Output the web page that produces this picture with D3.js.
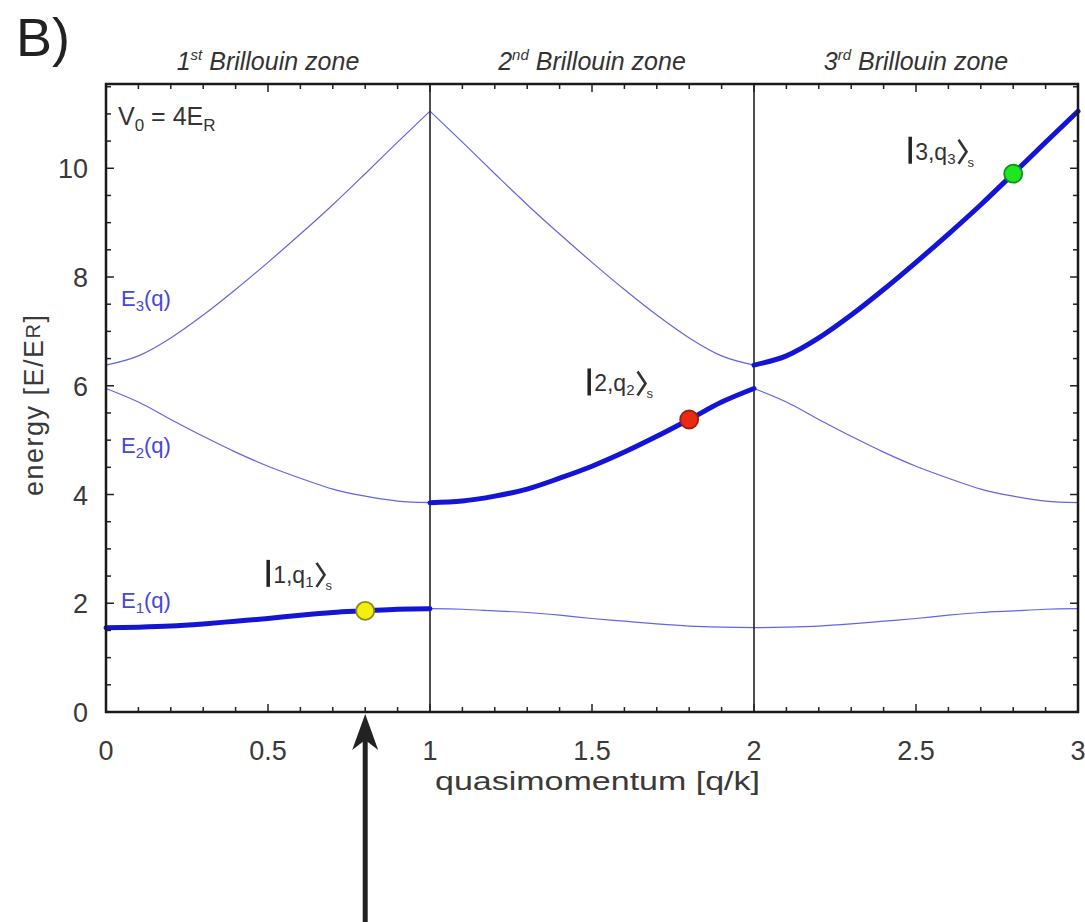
<!DOCTYPE html>
<html>
<head>
<meta charset="utf-8">
<script src="https://cdn.jsdelivr.net/npm/d3@7"></script>
<style>
  body { margin: 0; background: #fff; }
  text { font-family: "Liberation Sans", Arial, sans-serif; }
</style>
</head>
<body>
<svg id="chart" width="1085" height="922"></svg>
<script>
// reduced quasimomentum (0..1) and the three band energies
const qReduced = [0, 0.1, 0.2, 0.3, 0.4, 0.5, 0.6, 0.7, 0.8, 0.9, 1.0];
const band1 = [1.55, 1.56, 1.58, 1.62, 1.67, 1.72, 1.78, 1.83, 1.86, 1.89, 1.90];
const band2 = [5.95, 5.70, 5.38, 5.07, 4.78, 4.52, 4.30, 4.10, 3.97, 3.88, 3.85];
const band3 = [6.38, 6.55, 6.88, 7.30, 7.77, 8.27, 8.79, 9.33, 9.90, 10.48, 11.05];
const bands = [band1, band2, band3];

const zoneNames = [["1", "st"], ["2", "nd"], ["3", "rd"]];
const xTicks = [0, 0.5, 1, 1.5, 2, 2.5, 3];
const xTickLabels = ["0", "0.5", "1", "1.5", "2", "2.5", "3"];
const yTicks = [0, 2, 4, 6, 8, 10];

// highlighted states |n,q_n>_s
const stateN = [1, 2, 3];
const stateQ = [0.8, 1.8, 2.8];
const stateE = [1.86, 5.38, 9.9];
const stateFill = ["#f4f00e", "#ec2a12", "#1fe61f"];
const stateStroke = ["#8c8a1c", "#a0200c", "#14901a"];

const svg = d3.select("#chart");
const margin = { left: 106, right: 7, top: 84, bottom: 210 };
const width = 1085 - margin.left - margin.right;
const height = 922 - margin.top - margin.bottom;

const x = d3.scaleLinear().domain([0, 3]).range([margin.left, margin.left + width]);
const y = d3.scaleLinear().domain([0, 11.55]).range([margin.top + height, margin.top]);

// unfold a band into the extended zone picture: zone 0 and 2 run forward, zone 1 mirrored
function zonePoints(values, zone) {
  return qReduced.map((qr, i) => ({
    q: zone % 2 === 0 ? zone + qr : zone + 1 - qr,
    E: values[i]
  }));
}

const line = d3.line()
  .x(d => x(d.q))
  .y(d => y(d.E))
  .curve(d3.curveMonotoneX);

const plot = svg.append("g");

// thin lines: every band in every zone
bands.forEach((b, bi) => {
  [0, 1, 2].forEach(z => {
    if (z === bi) return;
    plot.append("path")
      .attr("d", line(zonePoints(b, z)))
      .attr("fill", "none")
      .attr("stroke", "#6464e4")
      .attr("stroke-width", 1.2);
  });
});

// zone borders
[1, 2].forEach(v => {
  plot.append("line")
    .attr("x1", x(v)).attr("x2", x(v))
    .attr("y1", y.range()[0]).attr("y2", y.range()[1])
    .attr("stroke", "#222")
    .attr("stroke-width", 1.6);
});

// thick line: band n in zone n
bands.forEach((b, bi) => {
  plot.append("path")
    .attr("d", line(zonePoints(b, bi)))
    .attr("fill", "none")
    .attr("stroke", "#1414d6")
    .attr("stroke-width", 5)
    .attr("stroke-linecap", "round");
});

// axes with inward ticks on all four sides
const xMinor = d3.range(0, 3.0001, 0.1);
const yMinor = d3.range(0, 11.5001, 0.5);
const axes = svg.append("g").attr("stroke", "#222");
xMinor.forEach(v => {
  const major = Math.abs(v * 2 - Math.round(v * 2)) < 1e-6;
  const len = major ? 8 : 5;
  axes.append("line").attr("x1", x(v)).attr("x2", x(v))
    .attr("y1", y(0)).attr("y2", y(0) - len).attr("stroke-width", 1.5);
  axes.append("line").attr("x1", x(v)).attr("x2", x(v))
    .attr("y1", margin.top).attr("y2", margin.top + len).attr("stroke-width", 1.5);
});
yMinor.forEach(v => {
  const major = v % 2 === 0;
  const len = major ? 8 : 5;
  axes.append("line").attr("x1", x(0)).attr("x2", x(0) + len)
    .attr("y1", y(v)).attr("y2", y(v)).attr("stroke-width", 1.5);
  axes.append("line").attr("x1", x(3)).attr("x2", x(3) - len)
    .attr("y1", y(v)).attr("y2", y(v)).attr("stroke-width", 1.5);
});

svg.append("rect")
  .attr("x", margin.left).attr("y", margin.top)
  .attr("width", width).attr("height", height)
  .attr("fill", "none")
  .attr("stroke", "#1a1a1a")
  .attr("stroke-width", 2.5);

// tick labels
svg.append("g").selectAll("text")
  .data(xTicks)
  .join("text")
  .attr("x", d => x(d))
  .attr("y", 760)
  .attr("text-anchor", "middle")
  .attr("font-size", 27)
  .attr("fill", "#3a3a3a")
  .text((d, i) => xTickLabels[i]);

svg.append("g").selectAll("text")
  .data(yTicks)
  .join("text")
  .attr("x", 88)
  .attr("y", d => y(d) + 10)
  .attr("text-anchor", "end")
  .attr("font-size", 27)
  .attr("fill", "#3a3a3a")
  .text(d => d);

// axis titles
svg.append("text")
  .attr("x", 435).attr("y", 790)
  .attr("font-size", 26)
  .attr("fill", "#3a3a3a")
  .attr("textLength", 325)
  .attr("lengthAdjust", "spacingAndGlyphs")
  .text("quasimomentum [q/k]");

const yTitle = svg.append("text")
  .attr("transform", "translate(43,496) rotate(-90)")
  .attr("font-size", 27)
  .attr("letter-spacing", 1.5)
  .attr("fill", "#3a3a3a");
yTitle.append("tspan").text("energy [E/E");
yTitle.append("tspan").attr("font-size", 20).attr("dy", -3).text("R");
yTitle.append("tspan").attr("dy", 3).text("]");

// zone titles
zoneNames.forEach((z, i) => {
  const t = svg.append("text")
    .attr("x", x(i + 0.5)).attr("y", 70)
    .attr("text-anchor", "middle")
    .attr("font-size", 25)
    .attr("font-style", "italic")
    .attr("fill", "#333");
  t.append("tspan").text(z[0]);
  t.append("tspan").attr("font-size", 15).attr("dy", -10).text(z[1]);
  t.append("tspan").attr("dy", 10).text(" Brillouin zone");
});

// panel letter
svg.append("text")
  .attr("x", 16).attr("y", 56)
  .attr("font-size", 54)
  .attr("fill", "#222")
  .text("B)");

// V0 = 4ER
const v0 = svg.append("text")
  .attr("x", 118).attr("y", 125)
  .attr("font-size", 25)
  .attr("fill", "#333");
v0.append("tspan").text("V");
v0.append("tspan").attr("font-size", 17).attr("dy", 6).text("0");
v0.append("tspan").attr("dy", -6).text(" = 4E");
v0.append("tspan").attr("font-size", 17).attr("dy", 6).text("R");

// band labels
const bandLabelY = [608, 453, 306];
bandLabelY.forEach((ly, i) => {
  const t = svg.append("text")
    .attr("x", 121).attr("y", ly)
    .attr("font-size", 22)
    .attr("fill", "#4646dc");
  t.append("tspan").text("E");
  t.append("tspan").attr("font-size", 15).attr("dy", 5).text(i + 1);
  t.append("tspan").attr("dy", -5).text("(q)");
});

// state markers and ket labels
const ketOffset = [[-97, -28], [-100, -28], [-103, -14]];
stateQ.forEach((q, i) => {
  svg.append("circle")
    .attr("cx", x(q)).attr("cy", y(stateE[i]))
    .attr("r", 9)
    .attr("fill", stateFill[i])
    .attr("stroke", stateStroke[i])
    .attr("stroke-width", 1.8);

  const kx = x(q) + ketOffset[i][0];
  const ky = y(stateE[i]) + ketOffset[i][1];
  svg.append("line")
    .attr("x1", kx).attr("x2", kx)
    .attr("y1", ky - 23).attr("y2", ky + 4)
    .attr("stroke", "#222").attr("stroke-width", 3.5);
  const t = svg.append("text")
    .attr("x", kx + 5).attr("y", ky)
    .attr("font-size", 23)
    .attr("fill", "#333");
  t.append("tspan").text(stateN[i] + ",q");
  t.append("tspan").attr("font-size", 15).attr("dy", 4).text(stateN[i]);
  const bx = t.node().getBBox();
  const ex = bx.x + bx.width + 3;
  svg.append("path")
    .attr("d", `M${ex},${ky - 20} L${ex + 8},${ky - 8} L${ex},${ky + 4}`)
    .attr("fill", "none")
    .attr("stroke", "#333")
    .attr("stroke-width", 2.6);
  svg.append("text")
    .attr("x", ex + 9).attr("y", ky + 7)
    .attr("font-size", 13)
    .attr("fill", "#333")
    .text("s");
});

// arrow pointing at q1
const ax = x(stateQ[0]);
svg.append("line")
  .attr("x1", ax).attr("x2", ax)
  .attr("y1", 922).attr("y2", y(0) + 26)
  .attr("stroke", "#222").attr("stroke-width", 5);
svg.append("path")
  .attr("d", `M${ax},${y(0) + 2} L${ax + 13},${y(0) + 38} L${ax},${y(0) + 28} L${ax - 13},${y(0) + 38} Z`)
  .attr("fill", "#222");
</script>
</body>
</html>
